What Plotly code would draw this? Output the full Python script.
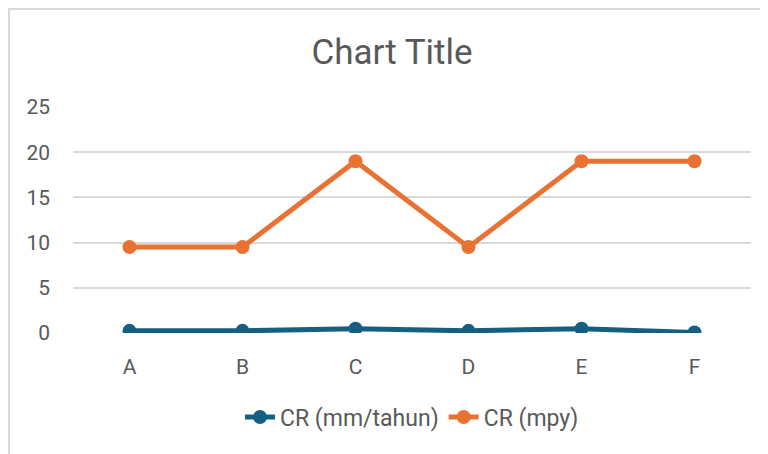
import plotly.graph_objects as go

categories = ["A", "B", "C", "D", "E", "F"]
cr_mm_tahun = [0.24, 0.24, 0.48, 0.24, 0.48, 0.05]
cr_mpy = [9.5, 9.5, 19.0, 9.5, 19.0, 19.0]
y_ticks = [0, 5, 10, 15, 20, 25]

W, H = 768, 454
ML, MR, MT, MB = 65, 25, 99, 129
pw, ph = W - ML - MR, H - MT - MB

fig = go.Figure()
fig.add_trace(go.Scatter(
    x=categories, y=cr_mm_tahun, name="CR (mm/tahun)", mode="lines+markers",
    line=dict(color="#156082", width=5), marker=dict(size=14, color="#156082"),
))
fig.add_trace(go.Scatter(
    x=categories, y=cr_mpy, name="CR (mpy)", mode="lines+markers",
    line=dict(color="#E97132", width=5), marker=dict(size=14, color="#E97132"),
))

def px_x(p):
    return (p - ML) / pw
def px_y(p):
    return (H - MB - p) / ph

# chart border
fig.add_shape(type="rect", xref="paper", yref="paper",
              x0=px_x(1), x1=px_x(W - 1), y0=px_y(1), y1=px_y(H - 1),
              line=dict(color="#d9d9d9", width=2), layer="below")

fig.update_layout(
    width=W, height=H,
    margin=dict(l=ML, r=MR, t=MT, b=MB),
    paper_bgcolor="white", plot_bgcolor="white",
    font=dict(family="Roboto, Arial, sans-serif", color="#595959", size=18),
    title=dict(text="Chart Title", x=0.5, xanchor="center", y=1 - 44 / H, yanchor="middle",
               font=dict(size=35, color="#595959", family="Roboto, sans-serif")),
    showlegend=True,
    legend=dict(orientation="h", x=0.5, xanchor="center", y=px_y(409), yanchor="middle",
                font=dict(size=23, color="#595959"), itemwidth=30, tracegroupgap=0),
    xaxis=dict(type="category", range=[-0.5, 5.5], showgrid=False, zeroline=False,
               showline=False, ticks="", ticklabelstandoff=19,
               tickfont=dict(size=21, color="#595959")),
    yaxis=dict(range=[0, 25], tickvals=y_ticks, showgrid=True, gridcolor="#d9d9d9",
               gridwidth=1.6, zeroline=False, showline=False, ticks="", ticklabelstandoff=22,
               tickfont=dict(size=21, color="#595959")),
)

fig.write_html("out.html")
